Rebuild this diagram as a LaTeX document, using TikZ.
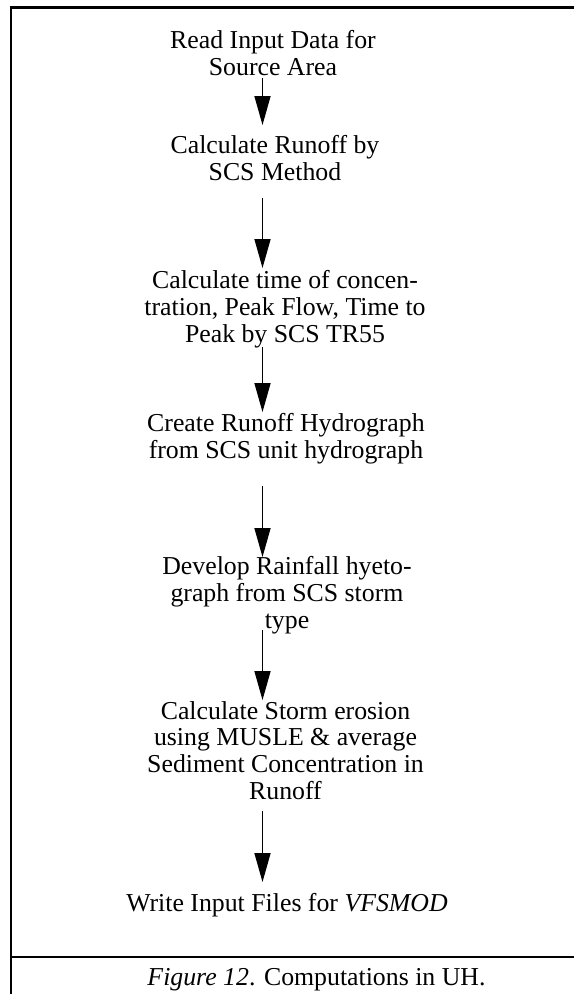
\documentclass[tikz,border=0pt]{standalone}
\usepackage{fontspec}
\setmainfont{Liberation Serif}
\usetikzlibrary{arrows.meta,calc}
\begin{document}
\begin{tikzpicture}[x=1pt,y=-1pt,
  txt/.style={align=center,inner sep=0pt,anchor=base,font=\fontsize{25.8}{26.7}\selectfont},
  arr/.style={line width=1.7pt,-{Triangle[length=29pt,width=16pt]}},
  frame/.style={line width=2.6pt}]
\useasboundingbox (0,0) rectangle (574,994);
\draw[frame] (574,7.3) -- (11,7.3) -- (11,994);
\draw[frame] (11,957) -- (574,957);
\coordinate (ax) at (262.5,0);
\node[txt] (t1) at (273,75) {Read Input Data for\\Source Area};
\node[txt] (t2) at (275,180) {Calculate Runoff by\\SCS Method};
\node[txt] (t3) at (285,342) {Calculate time of concen-\\tration, Peak Flow, Time to\\Peak by SCS TR55};
\node[txt] (t4) at (286,458.3) {Create Runoff Hydrograph\\from SCS unit hydrograph};
\node[txt] (t5) at (287,628) {Develop Rainfall hyeto-\\graph from SCS storm\\type};
\node[txt] (t6) at (285.5,799.3) {Calculate Storm erosion\\using MUSLE \& average\\Sediment Concentration in\\Runoff};
\node[txt] (t7) at (287,911.7) {Write Input Files for \textit{VFSMOD}};
\node[txt] (cap) at (316.5,985) {\textit{Figure 12}. Computations in UH.};
\draw[arr] ($(t1.base -| ax)+(0,3)$) -- ($(t2.base -| ax)+(0,-55)$);
\draw[arr] ($(t2.base -| ax)+(0,18)$) -- ($(t3.base -| ax)+(0,-74)$);
\draw[arr] ($(t3.base -| ax)+(0,5)$) -- ($(t4.base -| ax)+(0,-46.3)$);
\draw[arr] ($(t4.base -| ax)+(0,27.7)$) -- ($(t5.base -| ax)+(0,-71)$);
\draw[arr] ($(t5.base -| ax)+(0,2)$) -- ($(t6.base -| ax)+(0,-99.3)$);
\draw[arr] ($(t6.base -| ax)+(0,11.7)$) -- ($(t7.base -| ax)+(0,-29.7)$);
\end{tikzpicture}
\end{document}
